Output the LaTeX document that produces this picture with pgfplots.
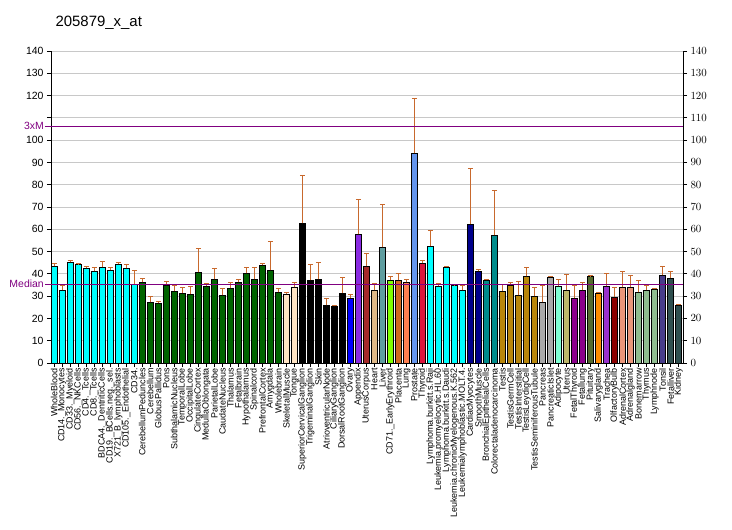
\documentclass[border=0pt]{standalone}
\usepackage{pgfplots}
\pgfplotsset{compat=1.18}
\usepackage{fontspec}
\setmainfont{Liberation Sans}

\definecolor{errc}{HTML}{C8692D}
\definecolor{medc}{HTML}{800080}
\definecolor{gridc}{HTML}{C8C8C8}
\definecolor{c1}{HTML}{00FFFF}
\definecolor{c2}{HTML}{006400}
\definecolor{c3}{HTML}{FFE4C4}
\definecolor{c4}{HTML}{000000}
\definecolor{c5}{HTML}{0000FF}
\definecolor{c6}{HTML}{8A2BE2}
\definecolor{c7}{HTML}{A52A2A}
\definecolor{c8}{HTML}{DEB887}
\definecolor{c9}{HTML}{5F9EA0}
\definecolor{c10}{HTML}{7FFF00}
\definecolor{c11}{HTML}{D2691E}
\definecolor{c12}{HTML}{FF7F50}
\definecolor{c13}{HTML}{6495ED}
\definecolor{c14}{HTML}{DC143C}
\definecolor{c15}{HTML}{00008B}
\definecolor{c16}{HTML}{008B8B}
\definecolor{c17}{HTML}{B8860B}
\definecolor{c18}{HTML}{A9A9A9}
\definecolor{c19}{HTML}{7FFFD4}
\definecolor{c20}{HTML}{BDB76B}
\definecolor{c21}{HTML}{8B008B}
\definecolor{c22}{HTML}{556B2F}
\definecolor{c23}{HTML}{FF8C00}
\definecolor{c24}{HTML}{9932CC}
\definecolor{c25}{HTML}{8B0000}
\definecolor{c26}{HTML}{E9967A}
\definecolor{c27}{HTML}{8FBC8F}
\definecolor{c28}{HTML}{483D8B}
\definecolor{c29}{HTML}{2F4F4F}

\pgfplotsset{
  bb/.style={ybar, fill=#1, draw=black, line width=0.9bp, bar width=6bp, bar shift=0pt,
    error bars/.cd, y dir=plus, y explicit,
    error bar style={errc, line width=0.8bp},
    error mark options={errc, rotate=90, mark size=2.5bp, line width=0.8bp}},
  frame/.style={
    at={(51bp,167bp)}, anchor=south west,
    width=632bp, height=312bp, scale only axis,
    xmin=0.6, xmax=79.55, ymin=0, ymax=140,
    axis line style={line width=0.9bp},
    tick align=outside, major tick length=4bp,
    tick style={black, line width=0.8bp},
    ytick={0,10,...,140},
    yticklabel style={font=\fontsize{10.5}{12}\selectfont},
  },
}

\begin{document}
\begin{tikzpicture}
\path[use as bounding box] (0bp,0bp) rectangle (732bp,530bp);
\node[anchor=base west, font=\fontsize{15}{17}\selectfont] at (52bp,503bp) {205879\_x\_at};

\begin{axis}[
  frame,
  axis y line*=left, axis x line*=bottom,
  yticklabels={0,10,20,30,40,50,60,70,80,90,100,,120,130,140},
  ymajorgrids, grid style={gridc, line width=0.8bp},
  xtick={1,...,79},
  xticklabel style={rotate=90, anchor=east, font=\fontsize{9}{10}\selectfont, inner sep=1bp},
  xticklabels={WholeBlood,CD14.\_Monocytes,CD33.\_Myeloid,CD56.\_NKCells,CD4.\_Tcells,CD8.\_Tcells,BDCA4.\_DentriticCells,CD19.\_BCells.neg.\_sel.,X721\_B\_lymphoblasts,CD105.\_Endothelial,CD34.,CerebellumPeduncles,Cerebellum,GlobusPallidus,Pons,SubthalamicNucleus,TemporalLobe,OccipitalLobe,CingulateCortex,MedullaOblongata,ParietalLobe,CaudateNucleus,Thalamus,Fetalbrain,Hypothalamus,Spinalcord,PrefrontalCortex,Amygdala,Wholebrain,SkeletalMuscle,Tongue,SuperiorCervicalGanglion,TrigeminalGanglion,Skin,AtrioventricularNode,CiliaryGanglion,DorsalRootGanglion,Ovary,Appendix,UterusCorpus,Heart,Liver,CD71.\_EarlyErythroid,Placenta,Lung,Prostate,Thyroid,Lymphoma.burkitt.s.Raji,Leukemia.promyelocytic.HL.60,Lymphoma.burkitt.s.Daudi,Leukemia.chronicMyelogenous.K.562,Leukemialymphoblastic.MOLT.4.,CardiacMyocytes,SmoothMuscle,BronchialEpithelialCells,Colorectaladenocarcinoma,Testis,TestisGermCell,TestisInterstitial,TestisLeydigCell,TestisSeminiferousTubule,Pancreas,PancreaticIslet,Adipocyte,Uterus,FetalThyroid,Fetallung,Pituitary,Salivarygland,Trachea,OlfactoryBulb,AdrenalCortex,Adrenalgland,Bonemarrow,Thymus,Lymphnode,Tonsil,Fetalliver,Kidney},
  clip=false,
]
\addplot[bb=c1] coordinates {(1,43.4)+-(0,1.3) (2,32.6)+-(0,2.4) (3,45.2)+-(0,0.9) (4,44.3)+-(0,0.3) (5,42.5)+-(0,0.9) (6,41.1)+-(0,1.8) (7,42.9)+-(0,2.7) (8,41.6)+-(0,1.3) (9,44.3)+-(0,0.9) (10,42.5)+-(0,1.8) (11,35.3)+-(0,6.3)};
\addplot[bb=c2] coordinates {(12,36.2)+-(0,1.8) (13,27.2)+-(0,2.7) (14,26.8)+-(0,0.9) (15,34.8)+-(0,1.8) (16,32.2)+-(0,2.6) (17,31.3)+-(0,2.6) (18,30.8)+-(0,3.6) (19,40.7)+-(0,10.7) (20,34.4)+-(0,1.3) (21,37.5)+-(0,5.0) (22,30.4)+-(0,3.1) (23,33.5)+-(0,2.7) (24,36.2)+-(0,1.3) (25,40.2)+-(0,2.7) (26,37.5)+-(0,5.4) (27,43.8)+-(0,0.9) (28,41.6)+-(0,13.0) (29,31.7)+-(0,1.8)};
\addplot[bb=c3] coordinates {(30,30.8)+-(0,0.9) (31,33.9)+-(0,2.3)};
\addplot[bb=c4] coordinates {(32,62.7)+-(0,21.5) (33,37.1)+-(0,7.2) (34,37.5)+-(0,7.7) (35,25.9)+-(0,3.1) (36,25.4)+-(0,0.5) (37,31.3)+-(0,7.1)};
\addplot[bb=c5] coordinates {(38,29.0)+-(0,1.8)};
\addplot[bb=c6] coordinates {(39,57.7)+-(0,15.7)};
\addplot[bb=c7] coordinates {(40,43.4)+-(0,5.8)};
\addplot[bb=c8] coordinates {(41,32.6)+-(0,3.1)};
\addplot[bb=c9] coordinates {(42,51.9)+-(0,19.3)};
\addplot[bb=c10] coordinates {(43,37.1)+-(0,1.8)};
\addplot[bb=c11] coordinates {(44,37.1)+-(0,3.1)};
\addplot[bb=c12] coordinates {(45,36.2)+-(0,1.3)};
\addplot[bb=c13] coordinates {(46,94.1)+-(0,24.8)};
\addplot[bb=c14] coordinates {(47,44.7)+-(0,1.4)};
\addplot[bb=c1] coordinates {(48,52.3)+-(0,7.2) (49,34.4)+-(0,1.3) (50,42.9)+-(0,0.5) (51,34.8)+-(0,0.4) (52,32.6)+-(0,2.2)};
\addplot[bb=c15] coordinates {(53,62.2)+-(0,25.1) (54,41.1)+-(0,0.9)};
\addplot[bb=c16] coordinates {(55,37.1)+-(0,0.4) (56,57.3)+-(0,20.2)};
\addplot[bb=c17] coordinates {(57,32.2)+-(0,3.1) (58,34.8)+-(0,1.4) (59,30.4)+-(0,6.2) (60,38.9)+-(0,4.0) (61,29.9)+-(0,4.0)};
\addplot[bb=c18] coordinates {(62,27.2)+-(0,7.6) (63,38.4)+-(0,0.5)};
\addplot[bb=c19] coordinates {(64,34.4)+-(0,3.1)};
\addplot[bb=c20] coordinates {(65,32.6)+-(0,7.2)};
\addplot[bb=c21] coordinates {(66,29.0)+-(0,5.8) (67,32.6)+-(0,3.6)};
\addplot[bb=c22] coordinates {(68,38.9)+-(0,0.2)};
\addplot[bb=c23] coordinates {(69,31.3)+-(0,0.4)};
\addplot[bb=c24] coordinates {(70,34.4)+-(0,5.8)};
\addplot[bb=c25] coordinates {(71,29.5)+-(0,4.4)};
\addplot[bb=c26] coordinates {(72,33.9)+-(0,7.1) (73,33.9)+-(0,5.4)};
\addplot[bb=c27] coordinates {(74,31.7)+-(0,5.4) (75,32.6)+-(0,2.2) (76,33.0)+-(0,0.5)};
\addplot[bb=c28] coordinates {(77,39.3)+-(0,4.1)};
\addplot[bb=c29] coordinates {(78,38.0)+-(0,3.1) (79,25.9)+-(0,0.4)};

\draw[medc, line width=0.9bp] ([xshift=-6bp]axis cs:0.6,35.4) -- (axis cs:79.55,35.4);
\draw[medc, line width=0.9bp] ([xshift=-6bp]axis cs:0.6,106.3) -- (axis cs:79.55,106.3);
\node[medc, anchor=east, inner sep=0pt, font=\fontsize{10.5}{12}\selectfont] at ([xshift=-7bp]axis cs:0.6,35.4) {Median};
\node[medc, anchor=east, inner sep=0pt, font=\fontsize{10.5}{12}\selectfont] at ([xshift=-7bp]axis cs:0.6,106.3) {3xM};
\end{axis}

\begin{axis}[
  frame,
  axis y line*=right, hide x axis,
]
\end{axis}
\end{tikzpicture}
\end{document}
